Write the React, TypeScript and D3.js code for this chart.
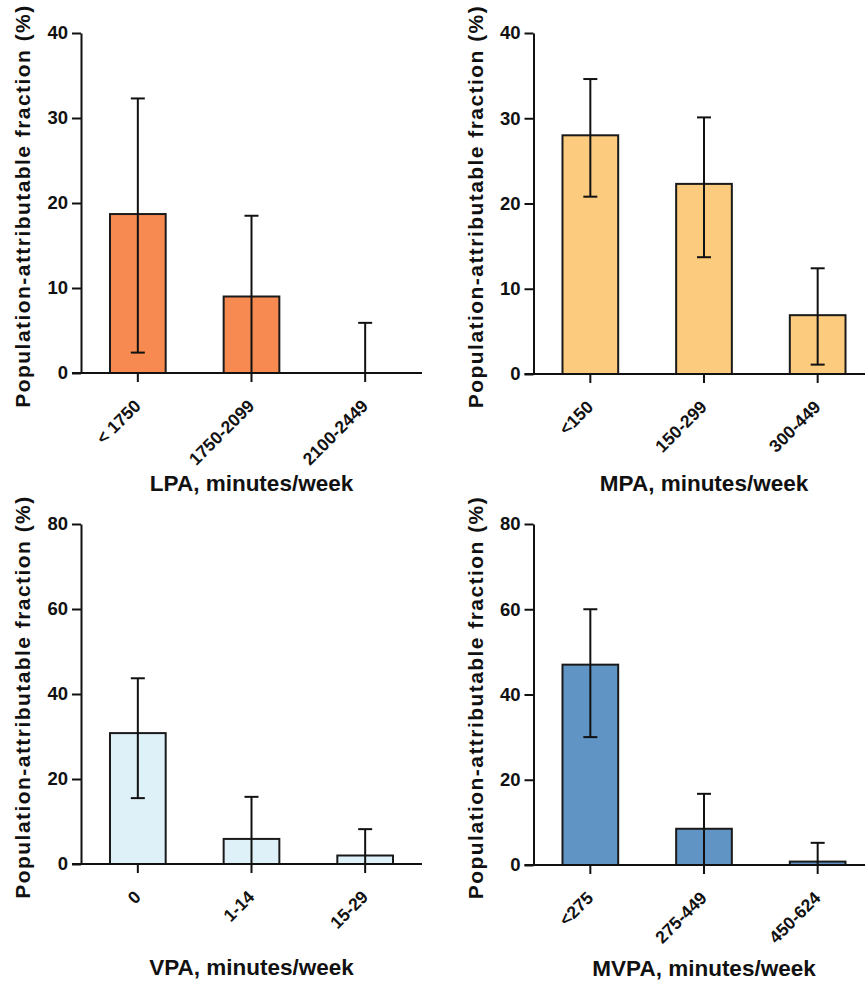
import { useRef, useEffect } from 'react';
import * as d3 from 'd3';

const lpaCategories = ['< 1750', '1750-2099', '2100-2449'];
const lpaValues = [18.7, 9.0, 0];
const lpaLower = [2.4, 0, 0];
const lpaUpper = [32.3, 18.5, 5.9];

const mpaCategories = ['<150', '150-299', '300-449'];
const mpaValues = [28.0, 22.3, 6.9];
const mpaLower = [20.8, 13.7, 1.1];
const mpaUpper = [34.6, 30.1, 12.4];

const vpaCategories = ['0', '1-14', '15-29'];
const vpaValues = [30.8, 5.9, 2.0];
const vpaLower = [15.5, 0, 0];
const vpaUpper = [43.7, 15.8, 8.2];

const mvpaCategories = ['<275', '275-449', '450-624'];
const mvpaValues = [47.0, 8.5, 0.8];
const mvpaLower = [30.0, 0, 0];
const mvpaUpper = [60.0, 16.7, 5.2];

const topTicks = [0, 10, 20, 30, 40];
const bottomTicks = [0, 20, 40, 60, 80];

const W = 865;
const H = 982;
const PLOT_W = 341;
const FONT = '"Liberation Sans", Arial, Helvetica, sans-serif';
const INK = '#111';

type PanelSpec = {
  axisX: number;
  yTop: number;
  yZero: number;
  titleY: number;
  ticks: number[];
  categories: string[];
  values: number[];
  lower: number[];
  upper: number[];
  fill: string;
  xTitle: string;
};

const panels: PanelSpec[] = [
  { axisX: 81, yTop: 33, yZero: 373, titleY: 491, ticks: topTicks, categories: lpaCategories,
    values: lpaValues, lower: lpaLower, upper: lpaUpper, fill: '#F68A50', xTitle: 'LPA, minutes/week' },
  { axisX: 533.5, yTop: 33, yZero: 374, titleY: 491, ticks: topTicks, categories: mpaCategories,
    values: mpaValues, lower: mpaLower, upper: mpaUpper, fill: '#FDCB7E', xTitle: 'MPA, minutes/week' },
  { axisX: 81, yTop: 524, yZero: 864, titleY: 975, ticks: bottomTicks, categories: vpaCategories,
    values: vpaValues, lower: vpaLower, upper: vpaUpper, fill: '#DFF1F8', xTitle: 'VPA, minutes/week' },
  { axisX: 533.5, yTop: 524, yZero: 865, titleY: 976, ticks: bottomTicks, categories: mvpaCategories,
    values: mvpaValues, lower: mvpaLower, upper: mvpaUpper, fill: '#5F94C4', xTitle: 'MVPA, minutes/week' },
];

function drawPanel(svg: d3.Selection<SVGSVGElement, unknown, null, undefined>, p: PanelSpec) {
  const g = svg.append('g');

  const x = d3.scaleBand<string>()
    .domain(p.categories)
    .range([p.axisX, p.axisX + PLOT_W])
    .paddingInner(0.51)
    .paddingOuter(0.255);
  const y = d3.scaleLinear()
    .domain([0, d3.max(p.ticks) as number])
    .range([p.yZero, p.yTop]);

  const cx = (c: string) => (x(c) as number) + x.bandwidth() / 2;

  // bars
  g.selectAll('.bar')
    .data(p.categories)
    .join('rect')
    .attr('x', d => x(d) as number)
    .attr('y', (_, i) => y(p.values[i]))
    .attr('width', x.bandwidth())
    .attr('height', (_, i) => y(0) - y(p.values[i]))
    .attr('fill', p.fill)
    .attr('stroke', '#1a1a1a')
    .attr('stroke-width', 2);

  // error bars
  const capHalf = 7;
  p.categories.forEach((c, i) => {
    const xc = cx(c);
    g.append('line')
      .attr('x1', xc).attr('x2', xc)
      .attr('y1', y(p.lower[i])).attr('y2', y(p.upper[i]))
      .attr('stroke', INK).attr('stroke-width', 2);
    [p.lower[i], p.upper[i]].forEach(v => {
      g.append('line')
        .attr('x1', xc - capHalf).attr('x2', xc + capHalf)
        .attr('y1', y(v)).attr('y2', y(v))
        .attr('stroke', INK).attr('stroke-width', 2);
    });
  });

  // y axis
  const yAxis = g.append('g')
    .attr('transform', `translate(${p.axisX},0)`)
    .call(d3.axisLeft(y).tickValues(p.ticks).tickSize(9).tickPadding(4).tickSizeOuter(0));
  yAxis.select('.domain').attr('stroke', INK).attr('stroke-width', 2);
  yAxis.selectAll('.tick line').attr('stroke', INK).attr('stroke-width', 2);
  yAxis.selectAll('.tick text')
    .attr('fill', INK)
    .attr('font-family', FONT)
    .attr('font-size', 18.5)
    .attr('font-weight', 'bold');

  // x baseline + ticks
  g.append('line')
    .attr('x1', p.axisX - 9).attr('x2', p.axisX + PLOT_W)
    .attr('y1', p.yZero).attr('y2', p.yZero)
    .attr('stroke', INK).attr('stroke-width', 2);
  p.categories.forEach(c => {
    const xc = cx(c);
    g.append('line')
      .attr('x1', xc).attr('x2', xc)
      .attr('y1', p.yZero).attr('y2', p.yZero + 9)
      .attr('stroke', INK).attr('stroke-width', 2);
    g.append('text')
      .attr('transform', `translate(${xc + 4},${p.yZero + 34}) rotate(-45)`)
      .attr('text-anchor', 'end')
      .attr('fill', INK)
      .attr('font-family', FONT)
      .attr('font-size', 17.5)
      .attr('font-weight', 'bold')
      .text(c);
  });

  // axis titles
  g.append('text')
    .attr('transform', `translate(${p.axisX - 51},${(p.yTop + p.yZero) / 2 + 3}) rotate(-90)`)
    .attr('text-anchor', 'middle')
    .attr('fill', INK)
    .attr('font-family', FONT)
    .attr('font-size', 21)
    .attr('font-weight', 'bold')
    .attr('letter-spacing', 1.45)
    .text('Population-attributable fraction (%)');

  g.append('text')
    .attr('x', p.axisX + PLOT_W / 2)
    .attr('y', p.titleY)
    .attr('text-anchor', 'middle')
    .attr('fill', INK)
    .attr('font-family', FONT)
    .attr('font-size', 22.5)
    .attr('font-weight', 'bold')
    .text(p.xTitle);
}

export default function App() {
  const svgRef = useRef<SVGSVGElement>(null);

  useEffect(() => {
    const svg = d3.select(svgRef.current as SVGSVGElement);
    svg.selectAll('*').remove();
    svg.append('rect').attr('width', W).attr('height', H).attr('fill', '#fff');
    panels.forEach(p => drawPanel(svg, p));
  }, []);

  return (
    <svg
      ref={svgRef}
      width={W}
      height={H}
      style={{ position: 'absolute', left: 0, top: 0, display: 'block' }}
    />
  );
}
